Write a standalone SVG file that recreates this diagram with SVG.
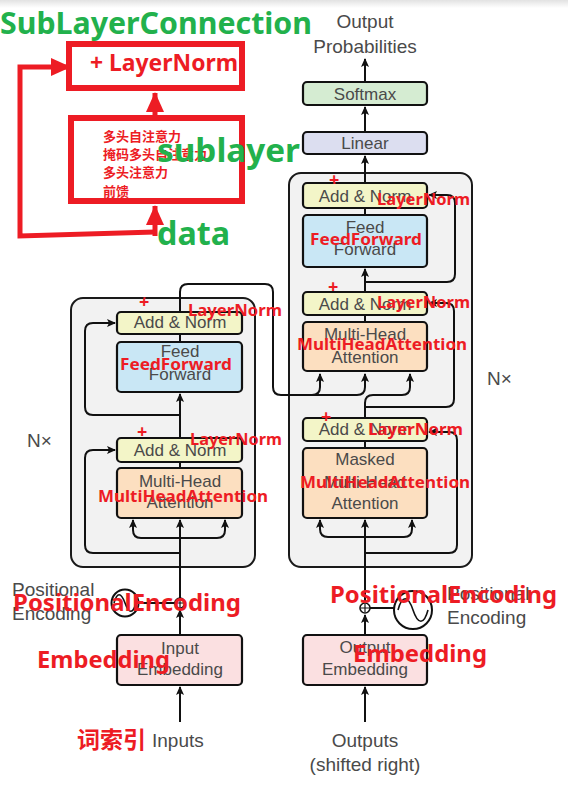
<svg xmlns="http://www.w3.org/2000/svg" width="568" height="792" viewBox="0 0 568 792">
<defs>
<linearGradient id="topband" x1="0" y1="0" x2="0" y2="1"><stop offset="0" stop-color="#e2e2e2"/><stop offset="1" stop-color="#ffffff"/></linearGradient>
<marker id="ah" markerUnits="userSpaceOnUse" markerWidth="9" markerHeight="8" refX="8" refY="4" orient="auto"><path d="M0,0 L9,4 L0,8 L2,4 z" fill="#111"/></marker>
<marker id="rah" markerUnits="userSpaceOnUse" markerWidth="20" markerHeight="18" refX="19" refY="9" orient="auto"><path d="M0,0 L20,9 L0,18 z" fill="#ed1c24"/></marker>
<style>
.blk{fill:#f2f2f2;stroke:#1a1a1a;stroke-width:2}
.box{stroke:#111;stroke-width:2.2}
.an{fill:#f3f5c8}.ff{fill:#c9e7f5}.mha{fill:#fcdfc0}.emb{fill:#fbe0e1}.sm{fill:#d5ecd2}.lin{fill:#dcdef0}
.ln{fill:none;stroke:#111;stroke-width:2}
.t{font-family:"Liberation Sans",Arial,sans-serif;font-size:17px;fill:#4a4a4a;text-anchor:middle}
.tl{font-family:"Liberation Sans",Arial,sans-serif;font-size:19px;fill:#4a4a4a}
.r{font-family:"Noto Sans","Noto Sans CJK SC",sans-serif;font-weight:bold;fill:#ed1c24}
.g{font-family:"Noto Sans","Noto Sans CJK SC",sans-serif;font-weight:bold;fill:#22b14c}
.rl{fill:none;stroke:#ed1c24;stroke-width:5}
.rb{fill:#fff;stroke:#ed1c24;stroke-width:6}
</style>
</defs>
<rect x="0" y="0" width="568" height="792" fill="#fff"/>
<rect x="0" y="0" width="568" height="8" fill="url(#topband)"/>

<!-- block backgrounds -->
<g id="encoder-block"><rect class="blk" x="71" y="298" width="184" height="269" rx="12"/></g>
<g id="decoder-block"><rect class="blk" x="289" y="173" width="183" height="394" rx="12"/></g>

<!-- connectors -->
<g id="connectors">
<!-- encoder main path -->
<path class="ln" d="M180,722 V687" marker-end="url(#ah)"/>
<path class="ln" d="M180,635 V610" marker-end="url(#ah)"/>
<path class="ln" d="M180,598 V520" marker-end="url(#ah)"/>
<path class="ln" d="M180,468 V462"/>
<path class="ln" d="M180,438 V394" marker-end="url(#ah)"/>
<path class="ln" d="M180,342 V334"/>
<path class="ln" d="M139,603 H175"/>
<path class="ln" d="M133,520 V530 Q133,538 141,538 H217 Q225,538 225,530 V520" />
<path class="ln" d="M133,528 V520" marker-end="url(#ah)"/>
<path class="ln" d="M225,528 V520" marker-end="url(#ah)"/>
<path class="ln" d="M180,553 H93 Q85,553 85,545 V458 Q85,450 93,450 H115" marker-end="url(#ah)"/>
<path class="ln" d="M180,415 H93 Q85,415 85,407 V331 Q85,323 93,323 H115" marker-end="url(#ah)"/>
<!-- encoder output to decoder -->
<path class="ln" d="M180,312 V292 Q180,284 188,284 H265 Q273,284 273,292 V387 Q273,395 281,395 H312 Q320,395 320,387 V374" marker-end="url(#ah)"/>
<path class="ln" d="M312,395 H357 Q365,395 365,387 V374" marker-end="url(#ah)"/>
<!-- decoder main path -->
<path class="ln" d="M365,722 V687" marker-end="url(#ah)"/>
<path class="ln" d="M365,635 V615" marker-end="url(#ah)"/>
<path class="ln" d="M365,603 V520" marker-end="url(#ah)"/>
<path class="ln" d="M370,608 H394"/>
<path class="ln" d="M320,520 V529 Q320,537 328,537 H404 Q412,537 412,529 V520"/>
<path class="ln" d="M320,528 V520" marker-end="url(#ah)"/>
<path class="ln" d="M412,528 V520" marker-end="url(#ah)"/>
<path class="ln" d="M365,553 H449 Q457,553 457,545 V440 Q457,432 449,432 H429" marker-end="url(#ah)"/>
<path class="ln" d="M365,448 V441"/>
<path class="ln" d="M365,418 V403 Q365,395 373,395 H402 Q410,395 410,387 V374" marker-end="url(#ah)"/>
<path class="ln" d="M365,407 H446 Q454,407 454,399 V311 Q454,303 446,303 H429" marker-end="url(#ah)"/>
<path class="ln" d="M365,322 V315"/>
<path class="ln" d="M365,292 V269" marker-end="url(#ah)"/>
<path class="ln" d="M365,282 H447 Q455,282 455,274 V203 Q455,195 447,195 H429" marker-end="url(#ah)"/>
<path class="ln" d="M365,215 V208"/>
<path class="ln" d="M365,183 V156" marker-end="url(#ah)"/>
<path class="ln" d="M365,132 V107" marker-end="url(#ah)"/>
<path class="ln" d="M365,82 V59" marker-end="url(#ah)"/>
<!-- red sublayer connection arrows -->
<path class="rl" d="M155,232 L20,236 L20,67 L70,67" marker-end="url(#rah)"/>
<path class="rl" d="M155,236 V206" marker-end="url(#rah)"/>
<path class="rl" d="M155,118 V93" marker-end="url(#rah)"/>
</g>

<!-- encoder nodes -->
<g id="enc-addnorm2"><rect class="box an" x="117" y="312" width="125" height="22" rx="4"/><text class="t" x="180" y="328">Add &amp; Norm</text></g>
<g id="enc-ff"><rect class="box ff" x="117" y="342" width="125" height="50" rx="4"/><text class="t" x="180" y="357">Feed</text><text class="t" x="180" y="380">Forward</text></g>
<g id="enc-addnorm1"><rect class="box an" x="117" y="438" width="125" height="24" rx="4"/><text class="t" x="180" y="456">Add &amp; Norm</text></g>
<g id="enc-mha"><rect class="box mha" x="117" y="468" width="125" height="50" rx="4"/><text class="t" x="180" y="487">Multi-Head</text><text class="t" x="180" y="508">Attention</text></g>
<g id="enc-pe"><circle cx="180" cy="603" r="5" fill="#fff" stroke="#111" stroke-width="1.6"/><path d="M176,603 H184 M180,599 V607" stroke="#111" stroke-width="1.2"/><circle cx="125" cy="603" r="13.5" fill="#fff" stroke="#111" stroke-width="2"/><path d="M114,603 C117,592 121,592 125,603 C129,614 133,614 136,603" fill="none" stroke="#111" stroke-width="1.6"/>
<text class="tl" x="12" y="596">Positional</text><text class="tl" x="12" y="620">Encoding</text></g>
<g id="enc-emb"><rect class="box emb" x="117" y="635" width="125" height="50" rx="4"/><text class="t" x="180" y="654">Input</text><text class="t" x="180" y="675">Embedding</text></g>
<g id="inputs"><text class="tl" x="152" y="747">Inputs</text></g>
<g id="enc-nx"><text class="tl" x="27" y="447">N×</text></g>

<!-- decoder nodes -->
<g id="dec-addnorm3"><rect class="box an" x="303" y="183" width="124" height="25" rx="4"/><text class="t" x="365" y="202">Add &amp; Norm</text></g>
<g id="dec-ff"><rect class="box ff" x="303" y="215" width="124" height="52" rx="4"/><text class="t" x="365" y="233">Feed</text><text class="t" x="365" y="255">Forward</text></g>
<g id="dec-addnorm2"><rect class="box an" x="303" y="292" width="124" height="23" rx="4"/><text class="t" x="365" y="310">Add &amp; Norm</text></g>
<g id="dec-mha"><rect class="box mha" x="303" y="322" width="124" height="49" rx="4"/><text class="t" x="365" y="340">Multi-Head</text><text class="t" x="365" y="363">Attention</text></g>
<g id="dec-addnorm1"><rect class="box an" x="303" y="418" width="124" height="23" rx="4"/><text class="t" x="365" y="435">Add &amp; Norm</text></g>
<g id="dec-masked"><rect class="box mha" x="303" y="448" width="124" height="70" rx="4"/><text class="t" x="365" y="465">Masked</text><text class="t" x="365" y="488">Multi-Head</text><text class="t" x="365" y="509">Attention</text></g>
<g id="dec-pe"><circle cx="365" cy="608" r="5" fill="#fff" stroke="#111" stroke-width="1.6"/><path d="M361,608 H369 M365,604 V612" stroke="#111" stroke-width="1.2"/><circle cx="413" cy="610" r="19" fill="#fff" stroke="#111" stroke-width="2"/><path d="M398,610 C402,595 408,595 413,610 C418,625 424,625 428,610" fill="none" stroke="#111" stroke-width="1.6"/>
<text class="tl" x="447" y="600">Positional</text><text class="tl" x="447" y="624">Encoding</text></g>
<g id="dec-emb"><rect class="box emb" x="303" y="635" width="124" height="50" rx="4"/><text class="t" x="365" y="653">Output</text><text class="t" x="365" y="675">Embedding</text></g>
<g id="outputs"><text class="tl" x="365" y="747" text-anchor="middle">Outputs</text><text class="tl" x="365" y="771" text-anchor="middle">(shifted right)</text></g>
<g id="dec-nx"><text class="tl" x="487" y="385">N×</text></g>
<g id="linear"><rect class="box lin" x="303" y="132" width="124" height="22" rx="4"/><text class="t" x="365" y="149">Linear</text></g>
<g id="softmax"><rect class="box sm" x="303" y="82" width="124" height="23" rx="4"/><text class="t" x="365" y="100">Softmax</text></g>
<g id="output-probs"><text class="tl" x="365" y="28" text-anchor="middle">Output</text><text class="tl" x="365" y="53" text-anchor="middle">Probabilities</text></g>

<!-- red annotation: sublayer connection sketch -->
<g id="sl-layernorm"><rect class="rb" x="69" y="44" width="173" height="44"/><text class="r" x="90" y="71" font-size="23" textLength="148" lengthAdjust="spacingAndGlyphs">+ LayerNorm</text></g>
<g id="sl-sublayer"><rect class="rb" x="71" y="118" width="171" height="83"/>
<text class="r" x="103" y="141" font-size="13">多头自注意力</text>
<text class="r" x="103" y="159" font-size="13">掩码多头自注意力</text>
<text class="r" x="103" y="177" font-size="13">多头注意力</text>
<text class="r" x="103" y="196" font-size="13">前馈</text></g>
<g id="green-labels">
<text class="g" x="0" y="34" font-size="31" textLength="312" lengthAdjust="spacingAndGlyphs">SubLayerConnection</text>
<text class="g" x="157" y="162" font-size="32" textLength="143" lengthAdjust="spacingAndGlyphs">sublayer</text>
<text class="g" x="157" y="245" font-size="32" textLength="73" lengthAdjust="spacingAndGlyphs">data</text>
</g>

<!-- red labels on diagram -->
<g id="red-labels">
<text class="r" x="139" y="308" font-size="18">+</text>
<text class="r" x="188" y="316" font-size="16" textLength="94" lengthAdjust="spacingAndGlyphs">LayerNorm</text>
<text class="r" x="120" y="370" font-size="16" textLength="112" lengthAdjust="spacingAndGlyphs">FeedForward</text>
<text class="r" x="137" y="438" font-size="18">+</text>
<text class="r" x="190" y="445" font-size="16" textLength="92" lengthAdjust="spacingAndGlyphs">LayerNorm</text>
<text class="r" x="98" y="502" font-size="16" textLength="170" lengthAdjust="spacingAndGlyphs">MultiHeadAttention</text>
<text class="r" x="329" y="186" font-size="18">+</text>
<text class="r" x="377" y="205" font-size="16" textLength="93" lengthAdjust="spacingAndGlyphs">LayerNorm</text>
<text class="r" x="310" y="245" font-size="16" textLength="112" lengthAdjust="spacingAndGlyphs">FeedForward</text>
<text class="r" x="328" y="293" font-size="18">+</text>
<text class="r" x="377" y="308" font-size="16" textLength="93" lengthAdjust="spacingAndGlyphs">LayerNorm</text>
<text class="r" x="297" y="350" font-size="16" textLength="170" lengthAdjust="spacingAndGlyphs">MultiHeadAttention</text>
<text class="r" x="321" y="423" font-size="18">+</text>
<text class="r" x="368" y="435" font-size="16" textLength="95" lengthAdjust="spacingAndGlyphs">LayerNorm</text>
<text class="r" x="300" y="488" font-size="16" textLength="170" lengthAdjust="spacingAndGlyphs">MultiHeadAttention</text>
<text class="r" x="13" y="611" font-size="23" textLength="228" lengthAdjust="spacingAndGlyphs">PositionalEncoding</text>
<text class="r" x="37" y="668" font-size="23" textLength="133" lengthAdjust="spacingAndGlyphs">Embedding</text>
<text class="r" x="330" y="603" font-size="23" textLength="227" lengthAdjust="spacingAndGlyphs">PositionalEncoding</text>
<text class="r" x="353" y="662" font-size="23" textLength="134" lengthAdjust="spacingAndGlyphs">Embedding</text>
<text class="r" x="77" y="748" font-size="23">词索引</text>
</g>
</svg>
